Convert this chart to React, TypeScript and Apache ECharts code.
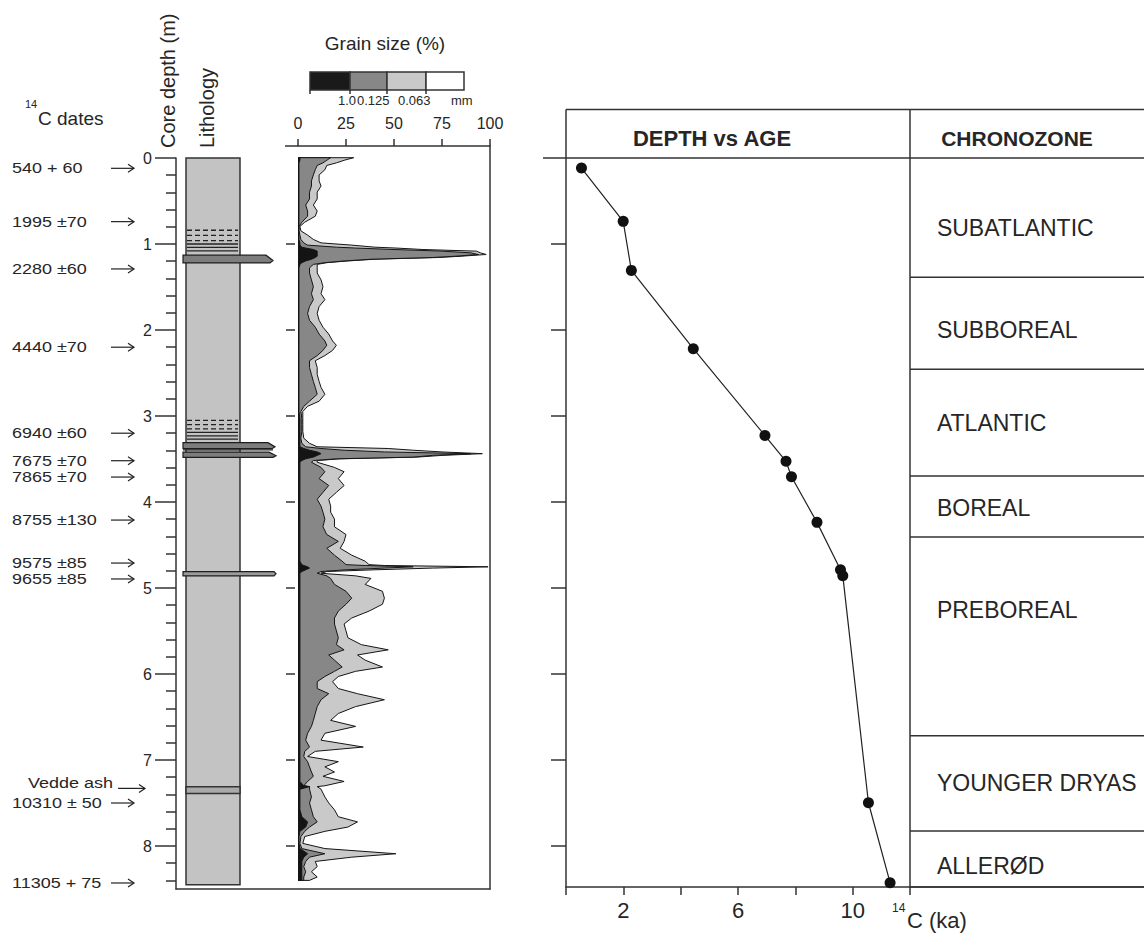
import React, { useEffect, useRef } from 'react';
import * as echarts from 'echarts';

const FONT = '"Liberation Sans", Arial, Helvetica, sans-serif';

// ---- 14C dates (left column) ----
const dateLabels = ['540 + 60', '1995 ±70', '2280 ±60', '4440 ±70', '6940 ±60', '7675 ±70', '7865 ±70', '8755 ±130', '9575 ±85', '9655 ±85', 'Vedde ash', '10310 ± 50', '11305 + 75'];
const dateDepths = [0.12, 0.74, 1.29, 2.2, 3.2, 3.52, 3.71, 4.21, 4.71, 4.895, 7.33, 7.5, 8.43];

// ---- depth axis ----
const depthTicks = [0, 1, 2, 3, 4, 5, 6, 7, 8];
const depthInnerTicks = [1, 2, 3, 4, 5, 6, 7, 8];

// ---- lithology ----
const lithoTop = [0, 0.84, 0.9, 0.96, 1.0, 1.04, 1.08, 1.13, 3.05, 3.1, 3.15, 3.19, 3.23, 3.27, 3.31, 3.395, 3.42, 4.81, 7.31];
const lithoBase = [8.45, 0.84, 0.9, 0.96, 1.0, 1.04, 1.08, 1.22, 3.05, 3.1, 3.15, 3.19, 3.23, 3.27, 3.38, 3.395, 3.48, 4.86, 7.39];
const lithoType = ['core', 'dash', 'dash', 'dash', 'line', 'line', 'line', 'bed', 'dash', 'dash', 'dash', 'line', 'line', 'line', 'bed', 'line', 'bed', 'band', 'ash'];
const lithoReach = [64, 62, 62, 62, 62, 62, 62, 97, 62, 62, 62, 62, 62, 62, 99, 97, 100, 100, 64];

// ---- grain size (cumulative %, coarser than: 1.0 mm, 0.125 mm, 0.063 mm) ----
const grainDepth = [0, 0.03, 0.06, 0.09, 0.14, 0.2, 0.27, 0.33, 0.4, 0.48, 0.55, 0.62, 0.68, 0.75, 0.8, 0.85, 0.9, 0.95, 0.99,
  1.016, 1.04, 1.05, 1.067, 1.086, 1.106, 1.125, 1.145, 1.16, 1.18, 1.2, 1.22, 1.24,
  1.28, 1.34, 1.42, 1.5, 1.58, 1.65, 1.73, 1.81, 1.89, 1.97, 2.05, 2.13, 2.18, 2.24, 2.3, 2.36, 2.44, 2.52, 2.6, 2.67, 2.75, 2.83, 2.89, 2.95,
  3.03, 3.1, 3.18, 3.26, 3.32, 3.36, 3.38, 3.4, 3.42, 3.44, 3.46, 3.48, 3.5, 3.52, 3.54,
  3.6, 3.65, 3.73, 3.81, 3.89, 3.97, 4.05, 4.12, 4.2, 4.29, 4.38, 4.46, 4.54, 4.62, 4.69, 4.73,
  4.74, 4.755, 4.77, 4.79, 4.81, 4.83, 4.86, 4.89, 4.96, 5.04, 5.12, 5.19, 5.27, 5.35, 5.42, 5.5, 5.58, 5.66, 5.72, 5.78, 5.84, 5.92, 5.97,
  6.03, 6.09, 6.17, 6.23, 6.3, 6.38, 6.46, 6.54, 6.61, 6.69, 6.77, 6.85, 6.9, 6.96, 7.02, 7.08, 7.14, 7.19, 7.25, 7.3, 7.31, 7.34, 7.43, 7.5,
  7.58, 7.66, 7.72, 7.78, 7.83, 7.89, 7.97, 8.03, 8.09, 8.13, 8.18, 8.24, 8.3, 8.36, 8.4];
const coarse1mm = [1, 1, 0.5, 0.5, 0.5, 0.5, 0.5, 0.5, 0.5, 0.5, 0.5, 0.5, 0.5, 0.5, 0.5, 0.5, 0.5, 0.5, 1,
  1, 2, 4, 8, 10, 10, 10, 10, 9, 7, 4, 2, 1,
  0.5, 0.5, 0.5, 0.5, 0.5, 0.5, 0.5, 0.5, 0.5, 0.5, 0.5, 0.5, 0.5, 0.5, 0.5, 0.5, 0.5, 0.5, 0.5, 0.5, 0.5, 0.5, 0.5, 0.5,
  1, 1, 1, 1, 1, 1, 3, 6, 10, 12, 10, 8, 4, 2, 1,
  1, 1, 1, 1, 1, 1, 1, 1, 1, 1, 1, 1, 1, 1, 1, 2,
  3, 5, 6, 4, 2, 1, 1, 1, 1, 1, 1, 1, 1, 1, 1, 1, 1, 1, 1, 1, 1, 1, 1,
  1, 1, 1, 1, 1, 1, 1, 1, 1, 1, 1, 1, 1, 1, 1, 1, 1, 1, 1, 3, 6, 1, 1, 1,
  1, 2, 5, 4, 1, 0.5, 0.5, 1, 5, 3, 2, 2, 2, 2, 2];
const coarse0125 = [17, 15, 13, 10, 9, 8, 7, 7, 6, 6, 4, 5, 5, 2, 0.5, 0.5, 1, 1.5, 3,
  5, 20, 30, 50, 75, 90, 94, 82, 70, 38, 24, 14, 8,
  6, 6, 7, 8, 7, 8, 6, 5, 6, 9, 11, 14, 15, 13, 10, 6, 6, 7, 8, 9, 10, 6, 3, 1.5,
  2, 2, 2, 1.5, 2, 4, 12, 24, 45, 90, 70, 60, 20, 8, 7,
  12, 14, 11, 16, 13, 10, 12, 13, 14, 13, 15, 21, 15, 19, 23, 25,
  35, 60, 45, 25, 12, 10, 15, 17, 19, 25, 28, 25, 21, 19, 19, 20, 21, 20, 24, 16, 19, 23, 19,
  14, 10, 10, 16, 12, 10, 9, 8, 7, 5, 4, 6, 3.5, 3, 5, 6, 7, 8, 5, 3, 6, 6, 7, 6,
  7, 8, 10, 6, 3.5, 1.5, 1, 2, 14, 6, 4, 3, 4, 3, 3];
const coarse0063 = [29, 24, 20, 15, 14, 11, 11, 12, 10, 10, 8, 10, 9, 3.5, 1, 1.5, 5, 8, 12,
  28, 40, 51, 65, 93, 95, 98, 85, 73, 40, 26, 15, 10,
  10, 10, 12, 13, 12, 14, 11, 10, 11, 13, 16, 18, 20, 18, 14, 9, 10, 10, 11, 12, 14, 11, 5, 2.5,
  2.5, 2.5, 2.5, 3, 6, 10, 47, 60, 75, 96, 75, 62, 22, 10, 10,
  19, 24, 21, 24, 20, 16, 17, 17, 19, 19, 25, 24, 22, 28, 35, 37,
  45, 99, 70, 40, 15, 12, 30, 38, 35, 44, 45, 44, 37, 28, 24, 25, 26, 33, 47, 31, 35, 44, 30,
  21, 18, 21, 31, 45, 30, 21, 17, 30, 14, 12, 34, 9, 5, 21, 14, 19, 13, 24, 14, 10, 12, 14, 16,
  19, 21, 31, 26, 14, 3.5, 2.5, 14, 51, 28, 9, 10, 7, 10, 6];
const grainTicks = [0, 25, 50, 75, 100];

// ---- depth vs age ----
const dvaAge = [0.54, 1.995, 2.28, 4.44, 6.94, 7.675, 7.865, 8.755, 9.575, 9.655, 10.55, 11.305];
const dvaDepth = [0.12, 0.74, 1.31, 2.22, 3.23, 3.53, 3.71, 4.24, 4.79, 4.86, 7.5, 8.43];
const ageTicks = [0, 2, 4, 6, 8, 10, 12];
const ageTickLabels = [2, 6, 10];

// ---- chronozones ----
const zoneNames = ['SUBATLANTIC', 'SUBBOREAL', 'ATLANTIC', 'BOREAL', 'PREBOREAL', 'YOUNGER DRYAS', 'ALLERØD'];
const zoneBase = [1.39, 2.46, 3.7, 4.41, 6.72, 7.83, 8.48];
const zoneLabelDepth = [0.82, 2.0, 3.08, 4.07, 5.26, 7.27, 8.24];

const INK = '#262626';
const LINE = '#333';

function txt(text: string, x: number, y: number, size: number, o: any = {}) {
  return {
    type: 'text', x, y, rotation: o.rot || 0, scaleX: o.sx || 1, z: 50,
    style: {
      text, x: 0, y: 0, fill: INK,
      font: `${o.bold ? 'bold ' : ''}${size}px ${FONT}`,
      textAlign: o.align || 'left', textVerticalAlign: 'middle',
    },
  };
}
function hline(x1: number, x2: number, y: number, w = 1.5) {
  return { type: 'line', z: 50, shape: { x1, y1: y, x2, y2: y }, style: { stroke: LINE, lineWidth: w } };
}
function vline(x: number, y1: number, y2: number, w = 1.5) {
  return { type: 'line', z: 50, shape: { x1: x, y1, x2: x, y2 }, style: { stroke: LINE, lineWidth: w } };
}

function buildOption(): any {
  const hiddenAxis = { show: false };
  const line = { show: true, onZero: false, lineStyle: { color: LINE, width: 1.5 } };
  const grainPoly = (vals: number[], api: any) => {
    const pts = grainDepth.map((d, i) => api.coord([vals[i], d]));
    pts.push(api.coord([0, grainDepth[grainDepth.length - 1]]));
    pts.push(api.coord([0, grainDepth[0]]));
    return pts;
  };

  return {
    animation: false,
    backgroundColor: '#ffffff',
    textStyle: { fontFamily: FONT, color: INK },
    grid: [
      { left: 176, top: 158, width: 314, height: 731 },
      { left: 176, top: 158, width: 100, height: 731 },
      { left: 298, top: 146, width: 192, height: 743 },
      { left: 566, top: 110, width: 344, height: 777 },
      { left: 910, top: 110, width: 234, height: 777 },
    ],
    xAxis: [
      { gridIndex: 0, type: 'value', min: 0, max: 1, axisLine: line, axisTick: { show: false }, axisLabel: { show: false }, splitLine: { show: false } },
      { gridIndex: 1, type: 'value', min: 0, max: 100, ...hiddenAxis },
      {
        gridIndex: 2, type: 'value', position: 'top', min: 0, max: 100, interval: 25,
        axisLine: line,
        axisTick: { show: true, inside: false, length: 7, customValues: grainTicks, lineStyle: { color: LINE, width: 1.5 } },
        axisLabel: { show: true, fontSize: 16, margin: 15, color: INK, customValues: grainTicks },
        splitLine: { show: false },
      },
      {
        gridIndex: 3, type: 'value', min: 0, max: 12, interval: 2,
        axisLine: line,
        axisTick: { show: true, inside: false, length: 8, customValues: ageTicks, lineStyle: { color: LINE, width: 1.5 } },
        axisLabel: { show: true, fontSize: 22, margin: 12, color: INK, customValues: ageTickLabels },
        splitLine: { show: false },
      },
      { gridIndex: 4, type: 'value', min: 0, max: 1, axisLine: line, axisTick: { show: false }, axisLabel: { show: false }, splitLine: { show: false } },
    ],
    yAxis: [
      {
        gridIndex: 0, type: 'value', inverse: true, min: 0, max: 8.5, interval: 1,
        axisLine: line,
        axisTick: { show: true, length: 21, customValues: depthTicks, lineStyle: { color: LINE, width: 1.5 } },
        minorTick: { show: true, splitNumber: 5, length: 10, lineStyle: { color: LINE, width: 1.5 } },
        axisLabel: { show: true, fontSize: 16, margin: 24, color: INK, customValues: depthTicks },
        splitLine: { show: false }, minorSplitLine: { show: false },
      },
      { gridIndex: 1, type: 'value', inverse: true, min: 0, max: 8.5, ...hiddenAxis },
      {
        gridIndex: 2, type: 'value', inverse: true, min: -0.136, max: 8.5, offset: 3,
        axisLine: { show: false, onZero: false },
        axisTick: { show: true, length: 9, customValues: depthInnerTicks, lineStyle: { color: LINE, width: 1.5 } },
        axisLabel: { show: false }, splitLine: { show: false },
      },
      {
        gridIndex: 2, type: 'value', position: 'right', inverse: true, min: -0.136, max: 8.5,
        axisLine: line,
        axisTick: { show: false }, axisLabel: { show: false }, splitLine: { show: false },
      },
      {
        gridIndex: 3, type: 'value', inverse: true, min: -0.555, max: 8.48,
        axisLine: line,
        axisTick: { show: true, length: 15, customValues: depthInnerTicks, lineStyle: { color: LINE, width: 1.5 } },
        axisLabel: { show: false }, splitLine: { show: false },
      },
      {
        gridIndex: 4, type: 'value', inverse: true, min: -0.555, max: 8.48,
        axisLine: line,
        axisTick: { show: false }, axisLabel: { show: false }, splitLine: { show: false },
      },
    ],
    series: [
      // lithology column
      {
        type: 'custom', xAxisIndex: 1, yAxisIndex: 1, clip: false, z: 3,
        data: lithoTop.map((t, i) => [lithoReach[i], t]),
        renderItem: (params: any, api: any) => {
          const i = params.dataIndex;
          const top = lithoTop[i], base = lithoBase[i], kind = lithoType[i], reach = lithoReach[i];
          if (kind === 'core' || kind === 'ash') {
            const p0 = api.coord([10, top]);
            const p1 = api.coord([64, base]);
            return {
              type: 'rect', shape: { x: p0[0], y: p0[1], width: p1[0] - p0[0], height: p1[1] - p0[1] },
              style: { fill: kind === 'core' ? '#c3c3c3' : '#a9a9a9', stroke: LINE, lineWidth: 1.5 },
            };
          }
          if (kind === 'dash' || kind === 'line') {
            const x0 = reach > 64 ? 7 : 11;
            const p0 = api.coord([x0, top]);
            const p1 = api.coord([reach, top]);
            return {
              type: 'line', shape: { x1: p0[0], y1: p0[1], x2: p1[0], y2: p1[1] },
              style: { stroke: '#222', lineWidth: 1.3, lineDash: kind === 'dash' ? [5, 3] : null },
            };
          }
          if (kind === 'bed') {
            const mid = top + 0.7 * (base - top);
            const pts = [api.coord([7, top]), api.coord([reach - 7, top]), api.coord([reach, mid]), api.coord([reach - 3, base]), api.coord([7, base])];
            return { type: 'polygon', shape: { points: pts }, style: { fill: '#7d7d7d', stroke: '#1e1e1e', lineWidth: 1.2 } };
          }
          const pts = [api.coord([7, top]), api.coord([reach - 2, top]), api.coord([reach, (top + base) / 2]), api.coord([reach - 2, base]), api.coord([7, base])];
          return { type: 'polygon', shape: { points: pts }, style: { fill: '#9a9a9a', stroke: '#1e1e1e', lineWidth: 1.2 } };
        },
      },
      // grain size profile
      {
        type: 'custom', xAxisIndex: 2, yAxisIndex: 2, clip: true, z: 3,
        data: grainDepth.map((d, i) => [coarse0063[i], d]),
        renderItem: (params: any, api: any) => {
          if (params.dataIndex !== 0) return null;
          return {
            type: 'group',
            children: [
              { type: 'polygon', shape: { points: grainPoly(coarse0063, api) }, style: { fill: '#c9c9c9', stroke: '#151515', lineWidth: 1 } },
              { type: 'polygon', shape: { points: grainPoly(coarse0125, api) }, style: { fill: '#878787', stroke: '#151515', lineWidth: 1 } },
              { type: 'polygon', shape: { points: grainPoly(coarse1mm, api) }, style: { fill: '#141414', stroke: '#141414', lineWidth: 1 } },
            ],
          };
        },
      },
      // 14C date labels with arrows
      {
        type: 'custom', xAxisIndex: 0, yAxisIndex: 0, clip: false, z: 4,
        data: dateDepths.map((d) => [0, d]),
        renderItem: (params: any, api: any) => {
          const i = params.dataIndex;
          const p = api.coord([0, dateDepths[i]]);
          const isAsh = dateLabels[i] === 'Vedde ash';
          const tx = isAsh ? p[0] - 148 : p[0] - 164;
          const ty = isAsh ? p[1] - 5 : p[1];
          const ax1 = isAsh ? p[0] - 58 : p[0] - 65;
          const ax2 = isAsh ? p[0] - 31 : p[0] - 42;
          const ay = p[1];
          return {
            type: 'group',
            children: [
              { type: 'text', x: tx, y: ty, scaleX: 1.2, style: { text: dateLabels[i], x: 0, y: 0, fill: INK, font: `15px ${FONT}`, textAlign: 'left', textVerticalAlign: 'middle' } },
              { type: 'line', shape: { x1: ax1, y1: ay, x2: ax2, y2: ay }, style: { stroke: '#222', lineWidth: 1.2 } },
              { type: 'polyline', shape: { points: [[ax2 - 6, ay - 4], [ax2, ay], [ax2 - 6, ay + 4]] }, style: { stroke: '#222', lineWidth: 1.2, fill: null } },
            ],
          };
        },
      },
      // depth vs age
      {
        type: 'line', xAxisIndex: 3, yAxisIndex: 4, z: 5,
        data: dvaAge.map((a, i) => [a, dvaDepth[i]]),
        symbol: 'circle', symbolSize: 11,
        itemStyle: { color: '#111' },
        lineStyle: { color: '#222', width: 1.2 },
      },
      // chronozones
      {
        type: 'custom', xAxisIndex: 4, yAxisIndex: 5, clip: false, z: 4,
        data: zoneBase.map((b) => [0, b]),
        renderItem: (params: any, api: any) => {
          const i = params.dataIndex;
          const l = api.coord([0, zoneBase[i]]);
          const r = api.coord([1, zoneBase[i]]);
          const t = api.coord([0.115, zoneLabelDepth[i]]);
          return {
            type: 'group',
            children: [
              { type: 'line', shape: { x1: l[0], y1: l[1], x2: r[0], y2: r[1] }, style: { stroke: LINE, lineWidth: 1.5 } },
              { type: 'text', style: { text: zoneNames[i], x: t[0], y: t[1], fill: INK, font: `23px ${FONT}`, textAlign: 'left', textVerticalAlign: 'middle' } },
            ],
          };
        },
      },
    ],
    graphic: [
      // left headers
      txt('14', 25, 104, 11),
      txt('C dates', 38, 118, 19),
      txt('Core depth (m)', 168, 148, 20, { rot: Math.PI / 2 }),
      txt('Lithology', 207, 148, 20, { rot: Math.PI / 2 }),
      // grain size legend
      txt('Grain size (%)', 385, 43, 19, { align: 'center' }),
      { type: 'rect', z: 50, shape: { x: 310, y: 72, width: 40, height: 18 }, style: { fill: '#1a1a1a', stroke: LINE, lineWidth: 1.5 } },
      { type: 'rect', z: 50, shape: { x: 350, y: 72, width: 37, height: 18 }, style: { fill: '#878787', stroke: LINE, lineWidth: 1.5 } },
      { type: 'rect', z: 50, shape: { x: 387, y: 72, width: 39, height: 18 }, style: { fill: '#c9c9c9', stroke: LINE, lineWidth: 1.5 } },
      { type: 'rect', z: 50, shape: { x: 426, y: 72, width: 38, height: 18 }, style: { fill: '#ffffff', stroke: LINE, lineWidth: 1.5 } },
      vline(310, 90, 94), vline(350, 90, 94), vline(387, 90, 94), vline(426, 90, 94),
      txt('1.0', 338, 100, 13),
      txt('0.125', 357, 100, 13),
      txt('0.063', 398, 100, 13),
      txt('mm', 451, 100, 13),
      // grain plot frame extension
      hline(285, 298, 146),
      // depth vs age / chronozone headers
      hline(566, 1144, 109.5),
      hline(543, 1144, 158),
      txt('DEPTH vs AGE', 712, 138, 22, { bold: true, align: 'center' }),
      txt('CHRONOZONE', 1017, 138, 21, { bold: true, align: 'center' }),
      txt('14', 892, 908, 12),
      txt('C (ka)', 907, 920, 22),
    ],
  };
}

export default function App() {
  const ref = useRef<HTMLDivElement>(null);
  useEffect(() => {
    if (!ref.current) return;
    const chart = echarts.init(ref.current, null, { renderer: 'svg' });
    chart.setOption(buildOption());
    return () => chart.dispose();
  }, []);
  return (
    <div
      ref={ref}
      style={{ position: 'fixed', left: 0, top: 0, width: 1144, height: 933, background: '#ffffff' }}
    />
  );
}
